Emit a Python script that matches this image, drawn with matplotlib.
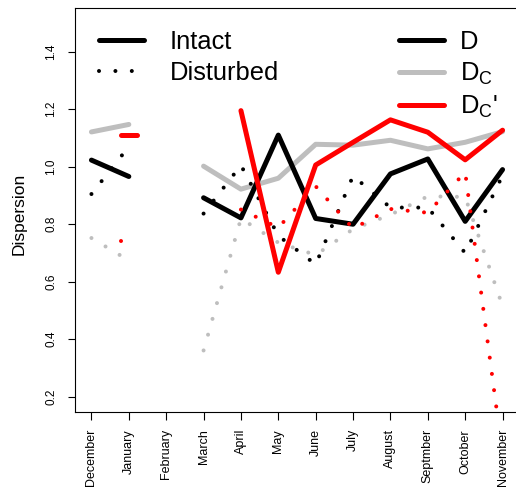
import numpy as np
import matplotlib
matplotlib.use('Agg')
import matplotlib.pyplot as plt
from matplotlib.lines import Line2D

plt.rcParams['font.family'] = ['Liberation Sans', 'DejaVu Sans']
plt.rcParams['mathtext.fontset'] = 'custom'
plt.rcParams['mathtext.rm'] = 'Liberation Sans'
plt.rcParams['mathtext.it'] = 'Liberation Sans:italic'
plt.rcParams['lines.scale_dashes'] = False

nan = np.nan
months = ['December', 'January', 'February', 'March', 'April', 'May', 'June',
          'July', 'August', 'Septmber', 'October', 'November']

# Intact (solid lines)
D_intact = [1.023, 0.966, nan, 0.892, 0.822, 1.110, 0.820, 0.800, 0.975, 1.027, 0.810, 0.990]
Dc_intact = [1.121, 1.147, nan, 1.002, 0.922, 0.960, 1.078, 1.075, 1.092, 1.062, 1.085, 1.122]
Dcp_intact = [nan, 1.110, nan, nan, 1.195, 0.633, 1.006, 1.085, 1.163, 1.120, 1.024, 1.127]

# Disturbed (dotted lines)
D_dist = [0.905, 1.070, nan, 0.837, 1.005, 0.760, 0.660, 0.968, 0.858, 0.858, 0.700, 0.970]
Dc_dist = [0.752, 0.674, nan, 0.361, 0.820, 0.736, 0.693, 0.783, 0.833, 0.897, 0.895, 0.515]
Dcp_dist = [nan, 0.743, nan, nan, 0.851, 0.788, 0.932, 0.785, 0.853, 0.840, 0.981, 0.000]

yticks = [0.2, 0.4, 0.6, 0.8, 1.0, 1.2, 1.4]

GRAY = '#BEBEBE'
RED = '#FF0000'
BLACK = '#000000'
SOLID_LW = 3.6
DOT_LW = 2.9
DOTS = (0, (0.01, 11.8))

fig = plt.figure(figsize=(5.16, 4.9), dpi=100)
ax = fig.add_axes([75 / 516, (490 - 411.7) / 490, 444 / 516, 403.7 / 490])

x = np.arange(len(months))


def style(color, dotted):
    if dotted:
        return dict(color=color, lw=DOT_LW, linestyle=DOTS, dash_capstyle='round')
    return dict(color=color, lw=SOLID_LW, solid_capstyle='round', solid_joinstyle='round')


def draw(values, color, dotted):
    v = np.array(values, float)
    ok = ~np.isnan(v)
    i = 0
    n = len(v)
    while i < n:
        if not ok[i]:
            i += 1
            continue
        j = i
        while j + 1 < n and ok[j + 1]:
            j += 1
        if j == i:
            xs = [x[i] - 0.22, x[i] + 0.22]
            ys = [v[i], v[i]]
        else:
            xs = x[i:j + 1]
            ys = v[i:j + 1]
        ax.plot(xs, ys, **style(color, dotted))
        i = j + 1


draw(Dc_intact, GRAY, False)
draw(Dc_dist, GRAY, True)
draw(D_intact, BLACK, False)
draw(D_dist, BLACK, True)
draw(Dcp_intact, RED, False)
draw(Dcp_dist, RED, True)

ax.set_xlim(-0.44, 11.44)
ax.set_ylim(0.148, 1.552)
ax.set_xticks(x)
ax.set_xticklabels(months, rotation=90, fontsize=9)
ax.set_yticks(yticks)
ax.set_yticklabels([f'{t:.1f}' for t in yticks], rotation=90, fontsize=8.5, va='center')
ax.tick_params(axis='both', length=5.4, width=0.8, direction='out')
ax.tick_params(axis='x', pad=7)
ax.tick_params(axis='y', pad=7.5)
for s in ax.spines.values():
    s.set_linewidth(0.8)

ax.set_ylabel('Dispersion', fontsize=12.5)
ax.yaxis.set_label_coords(-0.11, 0.49)

h1 = [Line2D([], [], **style(BLACK, False)), Line2D([], [], **style(BLACK, True))]
leg1 = ax.legend(h1, ['Intact', 'Disturbed'], loc='upper left', bbox_to_anchor=(0.055, 0.946),
                 frameon=False, fontsize=18.4, handlelength=1.76, handletextpad=1.0,
                 labelspacing=0.29, borderpad=0, borderaxespad=0)
ax.add_artist(leg1)
h2 = [Line2D([], [], **style(BLACK, False)), Line2D([], [], **style(GRAY, False)),
      Line2D([], [], **style(RED, False))]
ax.legend(h2, ['D', r'D$_\mathrm{C}$', r"D$_\mathrm{C}$'"], loc='upper left',
          bbox_to_anchor=(0.7300, 0.946), frameon=False, fontsize=18.4, handlelength=1.76,
          handletextpad=0.62, labelspacing=0.27, borderpad=0, borderaxespad=0)

fig.savefig('out.png', dpi=100)
